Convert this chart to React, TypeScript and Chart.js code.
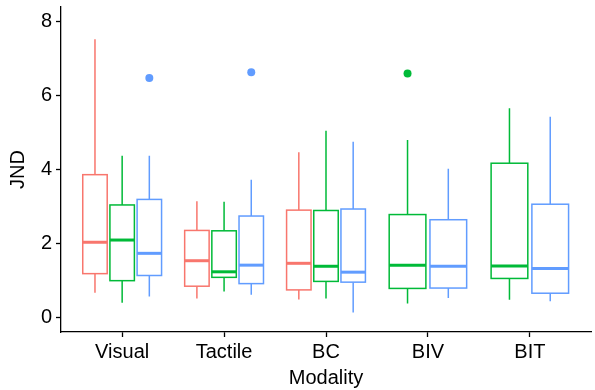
import { useEffect, useRef } from 'react';
import { Chart, registerables } from 'chart.js';
Chart.register(...registerables);

const categories = ['Visual', 'Tactile', 'BC', 'BIV', 'BIT'];
const yTicks = [0, 2, 4, 6, 8];
const groupColors = ['#F8766D', '#00BA38', '#619CFF'];

const redLow = [0.66, 0.51, 0.48, null, null];
const redQ1 = [1.18, 0.84, 0.74, null, null];
const redMed = [2.03, 1.53, 1.46, null, null];
const redQ3 = [3.86, 2.35, 2.9, null, null];
const redHigh = [7.53, 3.14, 4.47, null, null];

const greenLow = [0.39, 0.7, 0.51, 0.37, 0.47];
const greenQ1 = [0.99, 1.08, 0.97, 0.78, 1.05];
const greenMed = [2.09, 1.23, 1.38, 1.41, 1.39];
const greenQ3 = [3.04, 2.34, 2.89, 2.78, 4.17];
const greenHigh = [4.37, 3.13, 5.05, 4.8, 5.66];

const blueLow = [0.56, 0.61, 0.13, 0.52, 0.43];
const blueQ1 = [1.13, 0.91, 0.95, 0.79, 0.65];
const blueMed = [1.73, 1.41, 1.22, 1.38, 1.32];
const blueQ3 = [3.19, 2.74, 2.93, 2.64, 3.06];
const blueHigh = [4.37, 3.72, 4.75, 4.02, 5.43];

// outliers: [categoryIndex, value]
const redOutliers: [number, number][] = [];
const greenOutliers: [number, number][] = [[3, 6.6]];
const blueOutliers: [number, number][] = [[0, 6.48], [1, 6.63]];

const groups = [
  { low: redLow, q1: redQ1, med: redMed, q3: redQ3, high: redHigh, out: redOutliers },
  { low: greenLow, q1: greenQ1, med: greenMed, q3: greenQ3, high: greenHigh, out: greenOutliers },
  { low: blueLow, q1: blueQ1, med: blueMed, q3: blueQ3, high: blueHigh, out: blueOutliers },
];

function slot(cat: number, g: number) {
  const present = groups.map((gr, i) => (gr.med[cat] != null ? i : -1)).filter((i) => i >= 0);
  const n = present.length;
  const k = present.indexOf(g);
  const w = 0.8 / n;
  return { center: cat + 1 + (k - (n - 1) / 2) * w, half: (w * 0.9) / 2 };
}

const boxPlugin = {
  id: 'boxes',
  beforeDatasetsDraw(chart: any) {
    const { ctx } = chart;
    const xs = chart.scales.x;
    const ys = chart.scales.y;
    ctx.save();
    groups.forEach((gr, g) => {
      categories.forEach((_, c) => {
        if (gr.med[c] == null) return;
        const s = slot(c, g);
        const xc = xs.getPixelForValue(s.center);
        const xl = xs.getPixelForValue(s.center - s.half);
        const xr = xs.getPixelForValue(s.center + s.half);
        const yLow = ys.getPixelForValue(gr.low[c]);
        const yQ1 = ys.getPixelForValue(gr.q1[c]);
        const yMed = ys.getPixelForValue(gr.med[c]);
        const yQ3 = ys.getPixelForValue(gr.q3[c]);
        const yHigh = ys.getPixelForValue(gr.high[c]);
        ctx.strokeStyle = groupColors[g];
        ctx.lineWidth = 1.5;
        ctx.beginPath();
        ctx.moveTo(xc, yHigh);
        ctx.lineTo(xc, yQ3);
        ctx.moveTo(xc, yQ1);
        ctx.lineTo(xc, yLow);
        ctx.stroke();
        ctx.fillStyle = '#ffffff';
        ctx.fillRect(xl, yQ3, xr - xl, yQ1 - yQ3);
        ctx.strokeRect(xl, yQ3, xr - xl, yQ1 - yQ3);
        ctx.lineWidth = 3;
        ctx.beginPath();
        ctx.moveTo(xl, yMed);
        ctx.lineTo(xr, yMed);
        ctx.stroke();
      });
    });
    ctx.restore();
  },
};

export default function App() {
  const ref = useRef<HTMLCanvasElement>(null);
  useEffect(() => {
    document.body.style.margin = '0';
    const font = { family: '"Liberation Sans", Arial, sans-serif', size: 20 };
    const chart = new Chart(ref.current!, {
      type: 'scatter',
      data: {
        datasets: groups.map((gr, g) => ({
          data: gr.out.map(([c, v]) => ({ x: slot(c, g).center, y: v })),
          backgroundColor: groupColors[g],
          borderColor: groupColors[g],
          pointRadius: 4,
          pointBorderWidth: 0,
        })),
      },
      options: {
        animation: false,
        responsive: false,
        maintainAspectRatio: false,
        layout: { padding: { top: 7, right: 0, left: 0, bottom: 0 } },
        plugins: { legend: { display: false }, tooltip: { enabled: false } },
        scales: {
          x: {
            type: 'linear',
            min: 0.4,
            max: 5.6,
            afterBuildTicks: (scale: any) => {
              scale.ticks = categories.map((_, i) => ({ value: i + 1 }));
            },
            afterFit: (scale: any) => {
              scale.height = 58;
              scale.paddingLeft = 0;
              scale.paddingRight = 0;
            },
            ticks: {
              callback: (v: any) => categories[Math.round(v) - 1] ?? '',
              color: '#000',
              font,
              padding: 3,
              maxRotation: 0,
              autoSkip: false,
            },
            grid: { drawOnChartArea: false, color: '#000', tickLength: 5, tickWidth: 1.3 },
            border: { display: true, color: '#000', width: 1.3 },
            title: { display: true, text: 'Modality', color: '#000', font: { ...font, size: 20 }, padding: { top: 0, bottom: 0 } },
          },
          y: {
            type: 'linear',
            min: -0.4,
            max: 8.4,
            afterBuildTicks: (scale: any) => {
              scale.ticks = yTicks.map((v) => ({ value: v }));
            },
            afterFit: (scale: any) => {
              scale.width = 61;
              scale.paddingTop = 0;
              scale.paddingBottom = 0;
            },
            ticks: { color: '#000', font, padding: 4 },
            grid: { drawOnChartArea: false, color: '#000', tickLength: 5, tickWidth: 1.3 },
            border: { display: true, color: '#000', width: 1.3 },
            title: { display: true, text: 'JND', color: '#000', font: { ...font, size: 20 }, padding: { top: 6, bottom: 4 } },
          },
        },
      },
      plugins: [boxPlugin],
    });
    return () => chart.destroy();
  }, []);
  return (
    <div style={{ position: 'fixed', left: 0, top: 0, width: 595, height: 390, background: '#fff' }}>
      <canvas ref={ref} width={595} height={390} style={{ width: 595, height: 390 }} />
    </div>
  );
}
